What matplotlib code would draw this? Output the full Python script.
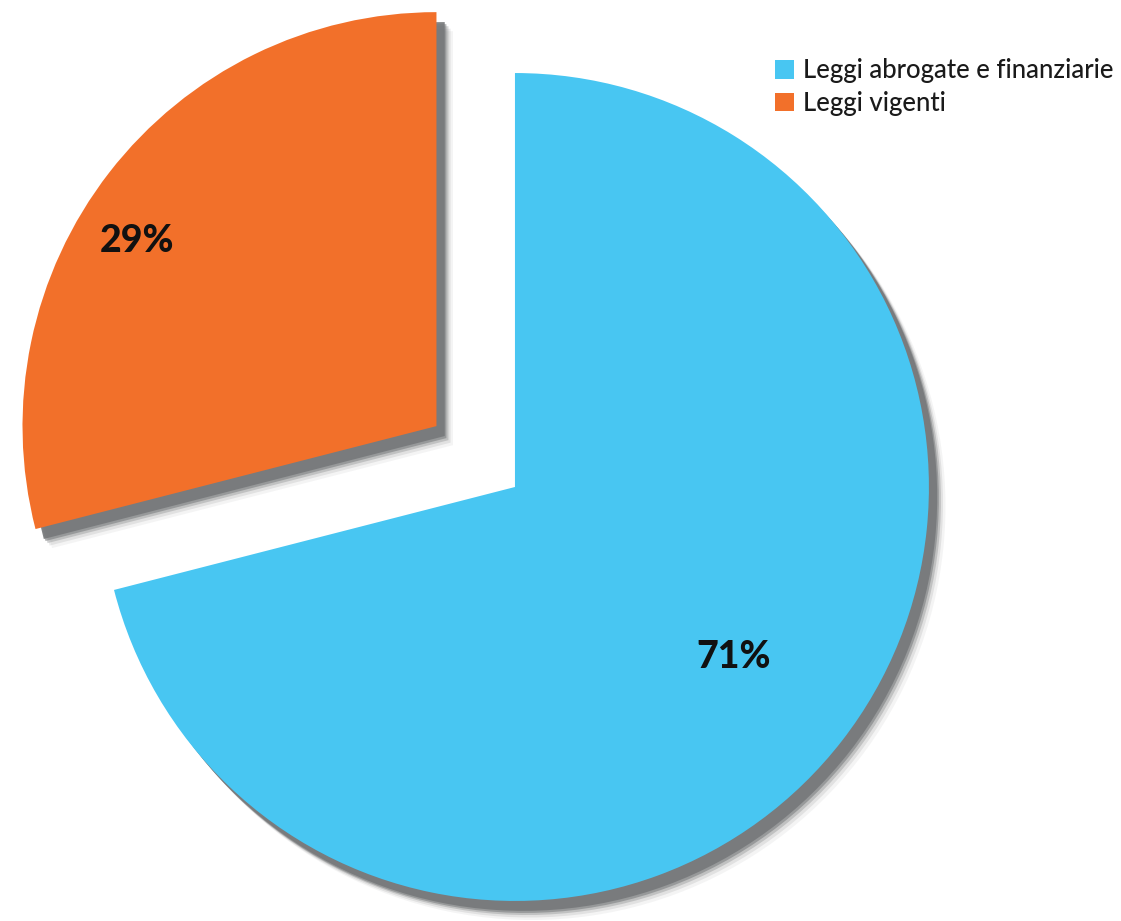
import matplotlib
matplotlib.use('Agg')
import matplotlib.pyplot as plt
import numpy as np

# Dati
labels = ['Leggi abrogate e finanziarie', 'Leggi vigenti']
values = [71, 29]
colors = ['#48C6F2', '#F2702A']
explode = [0, 0.24]

# posizione etichette percentuali (distanza dal centro, spostamento angolare)
label_dist = [0.67, 0.85]
label_shift = [0, 6]

plt.rcParams['font.family'] = ['Lato', 'DejaVu Sans']

fig = plt.figure(figsize=(11.21, 9.21), dpi=100)
ax = fig.add_axes([0, 0, 1, 1])

# Ombra sfumata: alcune copie grigie spostate in basso a destra
shadow_layers = [(0.040, -0.046, 0.08), (0.034, -0.040, 0.15),
                 (0.029, -0.034, 0.30), (0.024, -0.029, 0.55),
                 (0.020, -0.024, 0.90)]
for ox, oy, a in shadow_layers:
    ax.pie(values, colors=['#76787a'] * 2, startangle=90,
           counterclock=False, explode=explode, center=(ox, oy),
           wedgeprops=dict(linewidth=0, alpha=a))

wedges, _ = ax.pie(values, colors=colors, startangle=90, counterclock=False,
                   explode=explode, wedgeprops=dict(linewidth=0))

# Etichette percentuali
for w, v, d, s in zip(wedges, values, label_dist, label_shift):
    ang = np.deg2rad((w.theta1 + w.theta2) / 2 + s)
    cx, cy = w.center
    ax.text(cx + d * np.cos(ang), cy + d * np.sin(ang), f'{v}%',
            ha='center', va='center', fontsize=27, fontweight='black',
            color='#111111')

ax.legend(wedges, labels, loc='upper left', bbox_to_anchor=(0.691, 0.937),
          frameon=False, prop=dict(size=18.5, weight='medium'),
          handlelength=0.75, handleheight=0.75, borderpad=0,
          handletextpad=0.35, labelspacing=0.3, borderaxespad=0,
          labelcolor='#1a1a1a')

ax.set_aspect('equal')
ax.set_xlim(-1.244, 1.464)
ax.set_ylim(-1.048, 1.176)
ax.axis('off')

fig.savefig('out.png', dpi=100, facecolor='white')
plt.close(fig)
